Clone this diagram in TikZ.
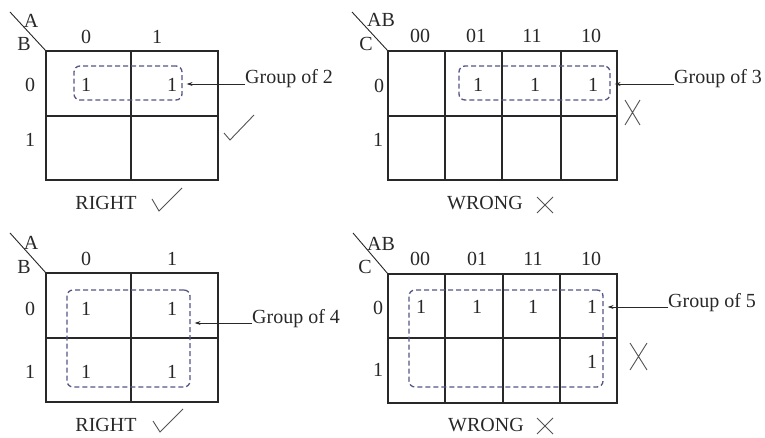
\documentclass[tikz,border=0pt]{standalone}
\usepackage{fontspec}
\setmainfont{Liberation Serif}
\usetikzlibrary{arrows.meta}
\definecolor{grpc}{RGB}{85,85,135}
\definecolor{inkc}{RGB}{40,40,40}
\begin{document}
\begin{tikzpicture}[x=1pt,y=-1pt,
  gridline/.style={draw=inkc, line width=1.6pt},
  thin/.style={draw=inkc, line width=0.9pt},
  grp/.style={draw=grpc, dash pattern=on 5pt off 3pt, line width=1.3pt, rounded corners=6pt, inner sep=0pt},
  lbl/.style={font=\fontsize{20}{20}\selectfont, text=inkc, inner sep=0pt},
  arr/.style={draw=inkc, line width=0.9pt, -{Stealth[length=6pt,width=4pt]}, shorten >=4pt},
  symb/.style={draw=inkc!80, line width=0.9pt}]
\useasboundingbox (0,0) rectangle (765,438);

% ===== Top-left map =====
\draw[gridline] (46,51) rectangle (218,180);
\draw[gridline] (131,51) -- (131,180);
\draw[gridline] (46,116) -- (218,116);
\draw[thin] (10,12) -- (46,51);
\node[lbl] (tlA) at (31,21) {A};
\node[lbl] (tlB) at (24,44) {B};
\node[lbl] (tlc0) at (86,37) {0};
\node[lbl] (tlc1) at (157,37) {1};
\node[lbl] (tlr0) at (30,85) {0};
\node[lbl] (tlr1) at (30,140) {1};
\node[grp, minimum width=108pt, minimum height=34pt] (g1) at (128,83) {};
\node[lbl] (tl11) at (86,85) {1};
\node[lbl] (tl12) at (172,85) {1};
\node[lbl, anchor=base west] (t1) at (245,84) {Group of 2};
\draw[arr] (t1.base west) -- (t1.base west -| g1.east);
\draw[symb] (224,133) -- (230,140) -- (254,115);
\node[lbl] (r1) at (106,203) {RIGHT};
\draw[symb] (152,199) -- (159,211) -- (182,188);

% ===== Top-right map =====
\draw[gridline] (388,51) rectangle (617,180);
\foreach \x in {445,502,561} \draw[gridline] (\x,51) -- (\x,180);
\draw[gridline] (388,116) -- (617,116);
\draw[thin] (352,12) -- (388,51);
\node[lbl] (trAB) at (381,20) {AB};
\node[lbl] (trC) at (366,44) {C};
\node[lbl] (trc0) at (420,36) {00};
\node[lbl] (trc1) at (476,36) {01};
\node[lbl] (trc2) at (532,36) {11};
\node[lbl] (trc3) at (591,36) {10};
\node[lbl] (trr0) at (379,86) {0};
\node[lbl] (trr1) at (378,140) {1};
\node[grp, minimum width=151pt, minimum height=34pt] (g2) at (534.5,83) {};
\node[lbl] (tr11) at (478,85) {1};
\node[lbl] (tr12) at (535,85) {1};
\node[lbl] (tr13) at (593,85) {1};
\node[lbl, anchor=base west] (t2) at (674,84) {Group of 3};
\draw[arr] (t2.base west) -- (t2.base west -| g2.east);
\draw[symb] (625,100) -- (640,125) (640,100) -- (625,125);
\node[lbl] (w1) at (485,203) {WRONG};
\draw[symb] (537,197) -- (553,213) (553,197) -- (537,213);

% ===== Bottom-left map =====
\draw[gridline] (46,273) rectangle (218,402);
\draw[gridline] (131,273) -- (131,402);
\draw[gridline] (46,338) -- (218,338);
\draw[thin] (10,233) -- (46,273);
\node[lbl] (blA) at (31,243) {A};
\node[lbl] (blB) at (24,267) {B};
\node[lbl] (blc0) at (86,259) {0};
\node[lbl] (blc1) at (172,259) {1};
\node[lbl] (blr0) at (30,309) {0};
\node[lbl] (blr1) at (30,372) {1};
\node[grp, minimum width=123pt, minimum height=97pt] (g3) at (128.5,338.5) {};
\node[lbl] (bl11) at (86,309) {1};
\node[lbl] (bl12) at (172,309) {1};
\node[lbl] (bl13) at (86,372) {1};
\node[lbl] (bl14) at (172,372) {1};
\node[lbl, anchor=base west] (t3) at (252,323) {Group of 4};
\draw[arr] (t3.base west) -- (t3.base west -| g3.east);
\node[lbl] (r2) at (106,425) {RIGHT};
\draw[symb] (153,421) -- (160,432) -- (183,409);

% ===== Bottom-right map =====
\draw[gridline] (388,274) rectangle (617,403);
\foreach \x in {445,503,560} \draw[gridline] (\x,274) -- (\x,403);
\draw[gridline] (388,338) -- (617,338);
\draw[thin] (353,233) -- (388,274);
\node[lbl] (brAB) at (381,244) {AB};
\node[lbl] (brC) at (365,267) {C};
\node[lbl] (brc0) at (420,259) {00};
\node[lbl] (brc1) at (477,259) {01};
\node[lbl] (brc2) at (533,259) {11};
\node[lbl] (brc3) at (591,259) {10};
\node[lbl] (brr0) at (378,308) {0};
\node[lbl] (brr1) at (378,370) {1};
\node[grp, minimum width=194pt, minimum height=97pt] (g4) at (506,338.5) {};
\node[lbl] (br11) at (421,307) {1};
\node[lbl] (br12) at (477,307) {1};
\node[lbl] (br13) at (533,307) {1};
\node[lbl] (br14) at (592,307) {1};
\node[lbl] (br24) at (592,362) {1};
\node[lbl, anchor=base west] (t4) at (668,307) {Group of 5};
\draw[arr] (t4.base west) -- (t4.base west -| g4.east);
\draw[symb] (630,343) -- (647,370) (647,343) -- (630,370);
\node[lbl] (w2) at (486,425) {WRONG};
\draw[symb] (537,418) -- (553,434) (553,418) -- (537,434);
\end{tikzpicture}
\end{document}
